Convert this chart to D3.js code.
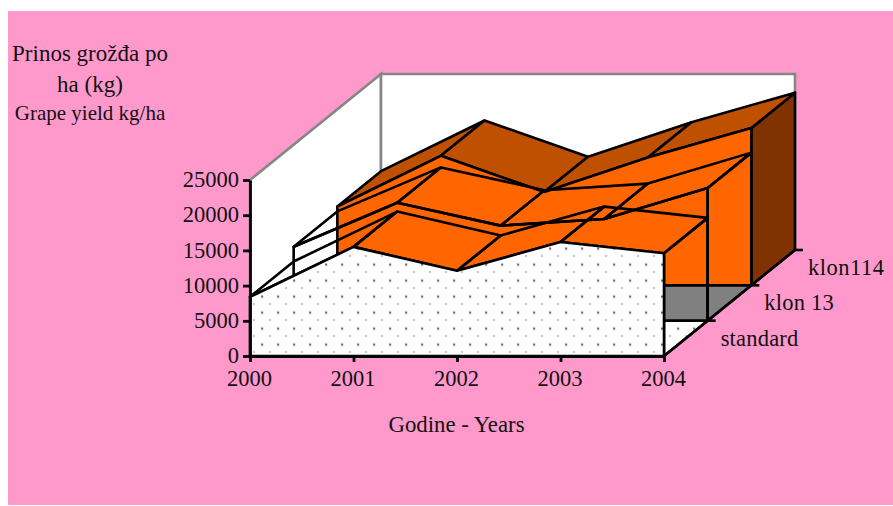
<!DOCTYPE html>
<html>
<head>
<meta charset="utf-8">
<script src="https://cdn.jsdelivr.net/npm/d3@7/dist/d3.min.js"></script>
<style>
html,body{margin:0;padding:0;background:#fff;}
svg{display:block;}
text{font-family:"Liberation Serif","Times New Roman",serif;fill:#111;}
</style>
</head>
<body>
<svg id="chart" width="893" height="506"></svg>
<script>
// Grape yield per hectare for three clones, 2000-2004
const years = ["2000", "2001", "2002", "2003", "2004"];
const standard = [8400, 15500, 12100, 16200, 14600];
const klon13 = [10500, 16750, 13500, 14450, 18850];
const klon114 = [11200, 18400, 13250, 18150, 22350];
const seriesNames = ["standard", "klon 13", "klon114"];
const yTicks = [0, 5000, 10000, 15000, 20000, 25000];

const svg = d3.select("#chart");
const x = d3.scalePoint().domain(years).range([250, 664]);
const y = d3.scaleLinear().domain([0, 25000]).range([356, 180]);
// Depth slots: each series occupies one slot running away from the viewer
const depthX = d3.scaleLinear().domain([0, 3]).range([0, 131]);
const depthY = d3.scaleLinear().domain([0, 3]).range([0, -106]);

const pt = (yr, v, d) => [x(yr) + depthX(d), y(v) + depthY(d)];
const path = pts => d3.line()(pts) + "Z";
const first = years[0], last = years[years.length - 1];

svg.append("rect").attr("x", 8).attr("y", 11).attr("width", 885).attr("height", 494).attr("fill", "#ff99cc");

const defs = svg.append("defs");
const dots = defs.append("pattern").attr("id", "dots").attr("patternUnits", "userSpaceOnUse")
  .attr("x", 254).attr("y", 288.5).attr("width", 16).attr("height", 16);
dots.append("rect").attr("width", 16).attr("height", 16).attr("fill", "#fff");
dots.append("rect").attr("x", 7).attr("y", 7).attr("width", 2.2).attr("height", 2.2).attr("fill", "#707070");
dots.append("rect").attr("x", 15.2).attr("y", 15.2).attr("width", 1.6).attr("height", 1.4).attr("fill", "#444");
dots.append("rect").attr("x", -0.8).attr("y", 15.2).attr("width", 1.6).attr("height", 1.4).attr("fill", "#444");

// Walls
const wallEdge = "#868686";
svg.append("path").attr("fill", "#fff").attr("stroke", wallEdge).attr("stroke-width", 2.6)
  .attr("d", path([pt(first, 25000, 0), pt(first, 25000, 3), pt(first, 0, 3), pt(first, 0, 0)]));
svg.append("path").attr("fill", "#fff").attr("stroke", wallEdge).attr("stroke-width", 2.6)
  .attr("d", path([pt(first, 25000, 3), pt(last, 25000, 3), pt(last, 0, 3), pt(first, 0, 3)]));

// Floor strips under the two nearer series
const floorFills = ["url(#dots)", "#808080"];
floorFills.forEach((f, d) => {
  svg.append("path").attr("fill", f)
    .attr("d", path([pt(first, 0, d), pt(last, 0, d), pt(last, 0, d + 1), pt(first, 0, d + 1)]));
});

const styled = sel => sel.attr("stroke", "#000").attr("stroke-width", 2.6).attr("stroke-linejoin", "round");

// Front face of a series at depth slot d
const frontFace = (vals, d) => {
  const top = years.map((yr, i) => pt(yr, vals[i], d));
  return [...top, pt(last, 0, d), pt(first, 0, d)];
};

// Top ribbons between consecutive years
const ribbons = (vals, d, fill) => {
  for (let i = 0; i < years.length - 1; i++) {
    styled(svg.append("path")).attr("fill", fill).attr("d", path([
      pt(years[i], vals[i], d), pt(years[i + 1], vals[i + 1], d),
      pt(years[i + 1], vals[i + 1], d + 1), pt(years[i], vals[i], d + 1)
    ]));
  }
};

// End wall at the latest year
const endWall = (vals, d, fill) => {
  const v = vals[vals.length - 1];
  styled(svg.append("path")).attr("fill", fill).attr("d", path([
    pt(last, v, d), pt(last, v, d + 1), pt(last, 0, d + 1), pt(last, 0, d)
  ]));
};

// Rear series: solid faces
endWall(klon114, 2, "#803300");
ribbons(klon114, 2, "#bf5000");
styled(svg.append("path")).attr("fill", "#ff6600").attr("d", path(frontFace(klon114, 2)));

// Middle series: outline only
endWall(klon13, 1, "none");
ribbons(klon13, 1, "none");
styled(svg.append("path")).attr("fill", "none").attr("d", path(frontFace(klon13, 1)));

// Nearest series: outlined ribbons, dotted front
endWall(standard, 0, "none");
ribbons(standard, 0, "none");
styled(svg.append("path")).attr("fill", "url(#dots)").attr("d", path(frontFace(standard, 0)));

// Axes
const fs = 22.5;
const axL = svg.append("g").attr("transform", `translate(${x(first)},0)`)
  .call(d3.axisLeft(y).tickValues(yTicks).tickSize(7).tickSizeOuter(0).tickFormat(d3.format("d")));
const axB = svg.append("g").attr("transform", `translate(0,${y(0)})`)
  .call(d3.axisBottom(x).tickSize(6).tickSizeOuter(0));
[axL, axB].forEach(a => {
  a.selectAll("path,line").attr("stroke", "#000").attr("stroke-width", 2.8);
  a.selectAll("text").attr("font-size", fs).attr("font-family", "Liberation Serif").attr("fill", "#111");
});
axL.selectAll("text").attr("x", -11).attr("dy", "0.3em");
axB.selectAll("text").attr("x", -1).attr("y", 13).attr("dy", "0.76em");

// Depth axis along the floor
styled(svg.append("path")).attr("fill", "none").attr("d", d3.line()([pt(last, 0, 0), pt(last, 0, 3)]));
[1, 2, 3].forEach(d => {
  const p = pt(last, 0, d);
  styled(svg.append("path")).attr("fill", "none").attr("d", d3.line()([p, [p[0] + 8, p[1]]]));
});

// Depth labels
seriesNames.forEach((name, i) => {
  const p = pt(last, 0, i + 1);
  svg.append("text").attr("x", p[0] + 13).attr("y", p[1] + 25).attr("font-size", fs)
    .attr("letter-spacing", name === "klon114" ? 0.5 : 0.2).text(name);
});

// Titles
svg.append("text").attr("x", 90).attr("y", 61).attr("text-anchor", "middle").attr("font-size", 23).text("Prinos grožđa po");
svg.append("text").attr("x", 90).attr("y", 92).attr("text-anchor", "middle").attr("font-size", 23).text("ha (kg)");
svg.append("text").attr("x", 90).attr("y", 120).attr("text-anchor", "middle").attr("font-size", 21).text("Grape yield kg/ha");
svg.append("text").attr("x", 456.5).attr("y", 432).attr("text-anchor", "middle").attr("font-size", 22.8).text("Godine - Years");
</script>
</body>
</html>
